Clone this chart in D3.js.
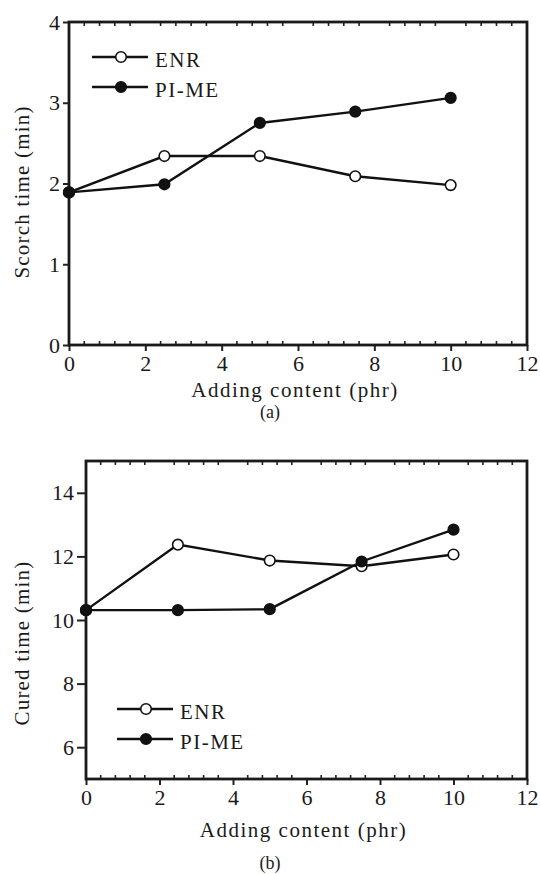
<!DOCTYPE html>
<html>
<head>
<meta charset="utf-8">
<script src="https://cdn.jsdelivr.net/npm/d3@7"></script>
<style>
  body { margin: 0; background: #fff; }
  svg text { font-family: "Liberation Serif", "Times New Roman", "DejaVu Serif", serif; fill: #1a1a1a; }
</style>
</head>
<body>
<div id="chart"></div>
<script>
// values
var contents = [0, 2.5, 5, 7.5, 10];
var scorchENR = [1.89, 2.34, 2.34, 2.09, 1.98];
var scorchPIME = [1.89, 1.99, 2.75, 2.89, 3.06];
var curedENR = [10.31, 12.37, 11.87, 11.69, 12.06];
var curedPIME = [10.31, 10.31, 10.34, 11.84, 12.84];
var xTicks = [0, 2, 4, 6, 8, 10, 12];
var scorchTicks = [0, 1, 2, 3, 4];
var curedTicks = [6, 8, 10, 12, 14];

var serif = "'Liberation Serif', 'Times New Roman', 'DejaVu Serif', serif";

var svg = d3.select("#chart").append("svg")
    .attr("width", 540)
    .attr("height", 874)
    .attr("font-family", serif);

function drawPanel(opt) {
    var x = d3.scaleLinear().domain([0, 12]).range([opt.left, opt.right]);
    var y = d3.scaleLinear().domain(opt.yDomain).range([opt.bottom, opt.top]);
    var g = svg.append("g");

    // minor ticks every 0.4, skipping the major ones
    var minor = d3.range(0.4, 12, 0.4).filter(function(v) {
        return Math.abs(v / 2 - Math.round(v / 2)) > 0.01;
    });
    g.selectAll(".minb").data(minor).enter().append("line")
        .attr("x1", function(d) { return x(d); }).attr("x2", function(d) { return x(d); })
        .attr("y1", opt.bottom).attr("y2", opt.bottom - 4)
        .attr("stroke", "#222").attr("stroke-width", 1.6);
    g.selectAll(".mint").data(minor).enter().append("line")
        .attr("x1", function(d) { return x(d); }).attr("x2", function(d) { return x(d); })
        .attr("y1", opt.top).attr("y2", opt.top + 4)
        .attr("stroke", "#222").attr("stroke-width", 1.6);

    // bottom axis
    var xAxis = g.append("g")
        .attr("transform", "translate(0," + opt.bottom + ")")
        .call(d3.axisBottom(x).tickValues(xTicks).tickFormat(d3.format("d"))
            .tickSize(6).tickPadding(4));
    // left axis
    var yAxis = g.append("g")
        .attr("transform", "translate(" + opt.left + ",0)")
        .call(d3.axisLeft(y).tickValues(opt.yTicks).tickFormat(d3.format("d"))
            .tickSize(opt.yTick).tickPadding(3));
    [xAxis, yAxis].forEach(function(a) {
        a.attr("font-family", serif).attr("font-size", 22);
        a.select(".domain").remove();
        a.selectAll(".tick line").attr("stroke", "#222").attr("stroke-width", 2);
        a.selectAll(".tick text").attr("fill", "#1a1a1a");
    });

    // frame
    g.append("rect")
        .attr("x", opt.left).attr("y", opt.top)
        .attr("width", opt.right - opt.left).attr("height", opt.bottom - opt.top)
        .attr("fill", "none").attr("stroke", "#1a1a1a").attr("stroke-width", 2.8);

    // titles
    g.append("text")
        .attr("x", (opt.left + opt.right) / 2 - 3).attr("y", opt.bottom + opt.xTitleGap)
        .attr("text-anchor", "middle").attr("font-size", 21).attr("letter-spacing", 1.5)
        .text("Adding content (phr)");
    g.append("text")
        .attr("transform", "translate(" + 29 + "," + opt.yTitleMid + ") rotate(-90)")
        .attr("text-anchor", "middle").attr("font-size", 21).attr("letter-spacing", 1.2)
        .text(opt.yTitle);
    g.append("text")
        .attr("x", 270).attr("y", opt.captionY)
        .attr("text-anchor", "middle").attr("font-size", 18)
        .text(opt.caption);

    var line = d3.line()
        .x(function(d) { return x(d[0]); })
        .y(function(d) { return y(d[1]); });

    var series = [
        { vals: opt.enr, fill: "#fff" },
        { vals: opt.pime, fill: "#111" }
    ];
    series.forEach(function(s) {
        var pts = contents.map(function(c, i) { return [c, s.vals[i]]; });
        g.append("path")
            .datum(pts)
            .attr("d", line)
            .attr("fill", "none").attr("stroke", "#111").attr("stroke-width", 2.4);
    });
    series.forEach(function(s) {
        var pts = contents.map(function(c, i) { return [c, s.vals[i]]; });
        g.selectAll(null).data(pts).enter().append("circle")
            .attr("cx", function(d) { return x(d[0]); })
            .attr("cy", function(d) { return y(d[1]); })
            .attr("r", 5.3)
            .attr("fill", s.fill).attr("stroke", "#111").attr("stroke-width", 1.6);
    });

    // legend
    var names = ["ENR", "PI-ME"];
    names.forEach(function(n, i) {
        var ly = opt.legY + i * 30;
        g.append("line")
            .attr("x1", opt.legX).attr("x2", opt.legX + 56)
            .attr("y1", ly).attr("y2", ly)
            .attr("stroke", "#111").attr("stroke-width", 2.4);
        g.append("circle")
            .attr("cx", opt.legX + 29).attr("cy", ly).attr("r", 5.3)
            .attr("fill", series[i].fill).attr("stroke", "#111").attr("stroke-width", 1.6);
        g.append("text")
            .attr("x", opt.legX + 63).attr("y", ly + 10)
            .attr("font-size", 21).attr("letter-spacing", 1.5)
            .text(n);
    });
}

drawPanel({
    left: 69, right: 527, top: 22, bottom: 345,
    yDomain: [0, 4], yTicks: scorchTicks, yTick: 6,
    enr: scorchENR, pime: scorchPIME,
    yTitle: "Scorch time (min)", yTitleMid: 192,
    xTitleGap: 52, caption: "(a)", captionY: 418,
    legX: 92, legY: 57
});

drawPanel({
    left: 86, right: 527, top: 461, bottom: 779,
    yDomain: [5, 15], yTicks: curedTicks, yTick: 9,
    enr: curedENR, pime: curedPIME,
    yTitle: "Cured time (min)", yTitleMid: 643,
    xTitleGap: 58, caption: "(b)", captionY: 869,
    legX: 117, legY: 709
});
</script>
</body>
</html>
